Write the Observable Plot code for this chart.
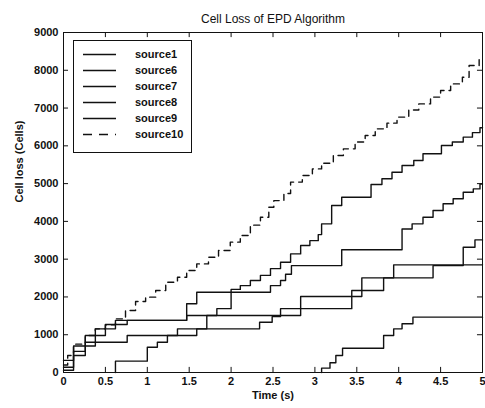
<!DOCTYPE html>
<html>
<head>
<meta charset="utf-8">
<script src="https://cdn.jsdelivr.net/npm/d3@7"></script>
<script src="https://cdn.jsdelivr.net/npm/@observablehq/plot@0.6"></script>
<style>
  body { margin: 0; background: #fff; }
  #wrap { position: relative; width: 485px; height: 408px; }
  #legend { position: absolute; left: 73px; top: 40px; width: 119px; height: 113px;
            border: 1px solid #111; background: #fff; box-sizing: border-box;
            font-family: "Liberation Sans", Arial, sans-serif; font-size: 11px; font-weight: bold; color: #111; }
  .row { position: absolute; left: 0; height: 16px; width: 100%; }
  .row svg { position: absolute; left: 9px; top: 0; }
  .row span { position: absolute; left: 61px; top: 0; line-height: 16px; }
</style>
</head>
<body>
<div id="wrap"></div>
<script>
// ---- data ----
const title = "Cell Loss of EPD Algorithm";
const xLabel = "Time (s)";
const yLabel = "Cell loss (Cells)";
const seriesNames = ["source1", "source6", "source7", "source8", "source9", "source10"];
const xTicks = [0, 0.5, 1, 1.5, 2, 2.5, 3, 3.5, 4, 4.5, 5];
const yTicks = [0, 1000, 2000, 3000, 4000, 5000, 6000, 7000, 8000, 9000];

// [time (s), cell loss] step points
const source1 = [[0,320],[0.12,700],[0.26,980],[0.38,1155],[0.5,1270],[0.62,1380],[1.47,1510],[1.83,1690],[2.0,2200],[2.11,2300],[2.23,2435],[2.35,2570],[2.47,2750],[2.59,2920],[2.71,3140],[2.83,3360],[2.94,3490],[3.04,3650],[3.08,3935],[3.2,4420],[3.32,4640],[3.67,4975],[3.8,5130],[3.92,5300],[4.04,5480],[4.18,5610],[4.29,5790],[4.51,6010],[4.64,6100],[4.77,6230],[4.88,6350],[4.97,6480],[5,6480]];
const source6 = [[0,140],[0.12,560],[0.26,800],[0.38,980],[0.5,1155],[0.62,1270],[0.76,1380],[1.47,1820],[1.59,2125],[2.47,2300],[2.59,2435],[2.65,2600],[2.72,2830],[3.32,3250],[4.04,3800],[4.16,3935],[4.29,4110],[4.41,4290],[4.53,4465],[4.65,4600],[4.77,4770],[4.89,4860],[4.97,4990],[5,4990]];
const source7 = [[0.62,0],[0.62,300],[1.0,670],[1.12,800],[1.24,980],[1.59,1155],[2.34,1330],[2.49,1480],[2.59,1690],[3.44,2170],[3.82,2505],[4.41,2830],[4.77,3315],[4.91,3510],[5,3510]];
const source8 = [[0,60],[0.12,450],[0.26,700],[0.38,800],[0.76,980],[1.36,1155],[1.71,1510],[2.83,2010],[3.56,2505],[3.94,2850],[5,2850]];
const source9 = [[3.08,0],[3.08,115],[3.18,260],[3.25,450],[3.33,640],[3.82,980],[3.94,1155],[4.04,1290],[4.17,1465],[5,1465]];
const source10 = [[0,200],[0.05,450],[0.12,750],[0.26,980],[0.38,1155],[0.5,1260],[0.62,1420],[0.74,1640],[0.86,1880],[0.98,1995],[1.1,2170],[1.22,2390],[1.36,2520],[1.47,2700],[1.59,2875],[1.73,3050],[1.85,3230],[1.99,3450],[2.11,3625],[2.23,3900],[2.35,4110],[2.45,4375],[2.51,4550],[2.63,4740],[2.71,5040],[2.85,5215],[2.97,5390],[3.08,5540],[3.22,5745],[3.34,5920],[3.48,6100],[3.6,6275],[3.72,6450],[3.86,6600],[3.98,6760],[4.12,6950],[4.24,7110],[4.38,7290],[4.5,7465],[4.62,7640],[4.76,7815],[4.84,8125],[4.96,8300],[5,8300]];

const allSeries = [source1, source6, source7, source8, source9, source10];
const solidRows = [];
allSeries.slice(0, 5).forEach((s, i) => s.forEach(([t, v]) => solidRows.push({name: seriesNames[i], t, v})));
const dashedRows = source10.map(([t, v]) => ({name: seriesNames[5], t, v}));

const ink = "#111";
const plot = Plot.plot({
  width: 485, height: 408,
  marginLeft: 63, marginRight: 3, marginTop: 32, marginBottom: 36,
  style: {fontFamily: "'Liberation Sans', Arial, sans-serif", fontSize: "11px", fontWeight: "bold", background: "#fff", color: ink},
  x: {domain: [0, 5]},
  y: {domain: [0, 9000]},
  marks: [
    Plot.frame({stroke: ink, strokeWidth: 1}),
    Plot.ruleX(xTicks, {x: d => d, y1: 0, y2: 135, stroke: ink}),
    Plot.ruleX(xTicks, {x: d => d, y1: 9000, y2: 8865, stroke: ink}),
    Plot.ruleY(yTicks, {y: d => d, x1: 0, x2: 0.06, stroke: ink}),
    Plot.ruleY(yTicks, {y: d => d, x1: 5, x2: 4.94, stroke: ink}),
    Plot.axisX({ticks: xTicks, tickSize: 0, tickPadding: 5, tickFormat: d => String(d), label: null, fill: ink}),
    Plot.axisY({ticks: yTicks, tickSize: 0, tickPadding: 5, tickFormat: d => String(d), label: null, fill: ink}),
    Plot.line(solidRows, {x: "t", y: "v", z: "name", curve: "step-after", stroke: ink, strokeWidth: 1.4}),
    Plot.line(dashedRows, {x: "t", y: "v", z: "name", curve: "step-after", stroke: ink, strokeWidth: 1.4, strokeDasharray: "6,5"}),
    Plot.text([title], {frameAnchor: "top", dy: -18, text: d => d, fontWeight: "normal", fontSize: 12, fill: ink}),
    Plot.text([xLabel], {frameAnchor: "bottom", dy: 26, text: d => d, fill: ink}),
    Plot.text([yLabel], {frameAnchor: "left", dx: -44, rotate: -90, text: d => d, fill: ink})
  ]
});
const wrap = document.getElementById("wrap");
wrap.appendChild(plot);

// legend overlay
const legend = document.createElement("div");
legend.id = "legend";
seriesNames.forEach((name, i) => {
  const row = document.createElement("div");
  row.className = "row";
  row.style.top = (5 + i * 15.9) + "px";
  const dash = i === 5 ? ' stroke-dasharray="9,7"' : '';
  row.innerHTML = `<svg width="34" height="16"><line x1="0" y1="8.5" x2="33" y2="8.5" stroke="${ink}" stroke-width="1.4"${dash}/></svg><span>${name}</span>`;
  legend.appendChild(row);
});
wrap.appendChild(legend);
</script>
</body>
</html>
